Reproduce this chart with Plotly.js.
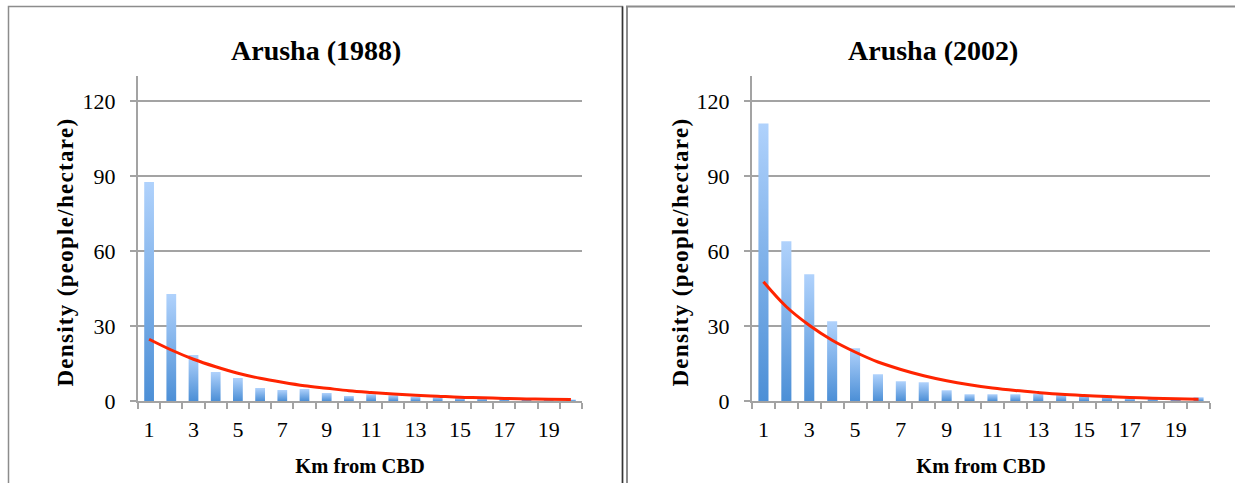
<!DOCTYPE html>
<html>
<head>
<meta charset="utf-8">
<script src="https://cdn.plot.ly/plotly-3.0.1.min.js"></script>
<style>
  html, body { margin: 0; padding: 0; background: #ffffff; }
  #chart { width: 1235px; height: 483px; }
  .barlayer .point path { fill: url(#barGrad) !important; }
  .annotation[data-index="2"] text, .annotation[data-index="3"] text { letter-spacing: 1.3px; }
</style>
</head>
<body>
<svg width="0" height="0" style="position:absolute">
  <defs>
    <linearGradient id="barGrad" x1="0" y1="0" x2="0" y2="1">
      <stop offset="0" stop-color="#b0d2fc"/>
      <stop offset="1" stop-color="#4c8fd6"/>
    </linearGradient>
  </defs>
</svg>
<div id="chart"></div>
<script>
// Distance from CBD (km)
const km = [1,2,3,4,5,6,7,8,9,10,11,12,13,14,15,16,17,18,19,20];
const xTickLabels = [1,3,5,7,9,11,13,15,17,19];
const yTicks = [0,30,60,90,120];

// Arusha 1988 density (people/hectare)
const density1988 = [87.6,42.8,18.4,11.6,9.2,5.2,4.4,4.8,3.2,2.0,2.7,2.3,1.7,1.5,1.2,1.0,0.8,0.7,0.5,0.6];
// Exponential trendline 1988
const trend1988 = [24.7,20.4,16.7,13.7,11.1,9.1,7.5,6.1,5.1,4.1,3.4,2.8,2.3,1.9,1.5,1.3,1.0,0.85,0.7,0.6];

// Arusha 2002 density (people/hectare)
const density2002 = [111.0,63.9,50.7,31.9,21.1,10.7,7.9,7.5,4.3,2.7,2.7,2.7,2.9,2.5,2.3,1.8,1.1,1.0,1.0,1.5];
// Exponential trendline 2002
const trend2002 = [47.7,37.7,30.3,24.3,19.6,15.6,12.6,10.1,8.1,6.5,5.2,4.2,3.4,2.7,2.2,1.8,1.4,1.15,0.9,0.75];

const titles = ["Arusha (1988)", "Arusha (2002)"];
const xTitle = "Km from CBD";
const yTitle = "Density (people/hectare)";

const W = 1235, H = 483;
const FONT = "Liberation Serif, Times New Roman, serif";
const GRID = "#a3a3a3";
const RED = "#ff2400";

const traces = [
  {type:"bar", x:km, y:density1988, xaxis:"x", yaxis:"y", marker:{color:"#7fb2ee"}},
  {type:"scatter", mode:"lines", x:km, y:trend1988, xaxis:"x", yaxis:"y", line:{color:RED, width:3, shape:"spline"}},
  {type:"bar", x:km, y:density2002, xaxis:"x2", yaxis:"y2", marker:{color:"#7fb2ee"}},
  {type:"scatter", mode:"lines", x:km, y:trend2002, xaxis:"x2", yaxis:"y2", line:{color:RED, width:3, shape:"spline"}}
];

function xAxis(d0, d1, anchor) {
  return {
    domain:[d0/W, d1/W], anchor:anchor, range:[0.5,20.5],
    tickmode:"array", tickvals:xTickLabels, ticktext:xTickLabels.map(String),
    ticks:"", showgrid:false, zeroline:false,
    showline:true, linecolor:GRID, linewidth:2,
    minor:{ticks:"outside", ticklen:6, tickwidth:2, tickcolor:GRID, tick0:0.5, dtick:1, showgrid:false},
    tickfont:{family:FONT, size:22, color:"#000"},
    ticklabelstandoff:8,
    title:{text:"<b>"+xTitle+"</b>", font:{family:FONT, size:20.5, color:"#000"}, standoff:17},
    fixedrange:true
  };
}
function yAxis(anchor) {
  return {
    domain:[1-401/H, 1-76/H], anchor:anchor, range:[0,130],
    tickmode:"array", tickvals:yTicks,
    ticks:"outside", ticklen:6, tickwidth:2, tickcolor:GRID,
    showgrid:true, gridcolor:GRID, gridwidth:2, zeroline:false,
    showline:true, linecolor:GRID, linewidth:2,
    tickfont:{family:FONT, size:22, color:"#000"},
    ticklabelstandoff:10,
    fixedrange:true
  };
}

const layout = {
  width:W, height:H,
  margin:{l:0, r:0, t:0, b:0},
  paper_bgcolor:"#ffffff", plot_bgcolor:"rgba(0,0,0,0)",
  showlegend:false, bargap:0.56,
  font:{family:FONT, color:"#000"},
  xaxis: xAxis(138, 582, "y"),
  yaxis: yAxis("x"),
  xaxis2: xAxis(752, 1210, "y2"),
  yaxis2: yAxis("x2"),
  annotations:[
    {text:"<b>"+titles[0]+"</b>", xref:"paper", yref:"paper", x:316/W, y:1-50/H, xanchor:"center", yanchor:"middle", showarrow:false, font:{family:FONT, size:28, color:"#000"}},
    {text:"<b>"+titles[1]+"</b>", xref:"paper", yref:"paper", x:933/W, y:1-50/H, xanchor:"center", yanchor:"middle", showarrow:false, font:{family:FONT, size:28, color:"#000"}},
    {text:"<b>"+yTitle+"</b>", xref:"paper", yref:"paper", x:65/W, y:1-252/H, xanchor:"center", yanchor:"middle", textangle:-90, showarrow:false, font:{family:FONT, size:23, color:"#000"}},
    {text:"<b>"+yTitle+"</b>", xref:"paper", yref:"paper", x:680/W, y:1-252/H, xanchor:"center", yanchor:"middle", textangle:-90, showarrow:false, font:{family:FONT, size:23, color:"#000"}}
  ],
  shapes:[
    {type:"rect", xref:"paper", yref:"paper", x0:8.5/W, x1:622.5/W, y0:-0.2, y1:1-6.5/H, line:{color:"#8c8c8c", width:1.5}, layer:"below"},
    {type:"line", xref:"paper", yref:"paper", x0:622.5/W, x1:622.5/W, y0:-0.2, y1:1-6.5/H, line:{color:"#333333", width:1.5}, layer:"below"},
    {type:"rect", xref:"paper", yref:"paper", x0:627/W, x1:1.2, y0:-0.2, y1:1-6.5/H, line:{color:"#8c8c8c", width:2}, layer:"below"}
  ]
};

Plotly.newPlot("chart", traces, layout, {displayModeBar:false, staticPlot:true});
</script>
</body>
</html>
